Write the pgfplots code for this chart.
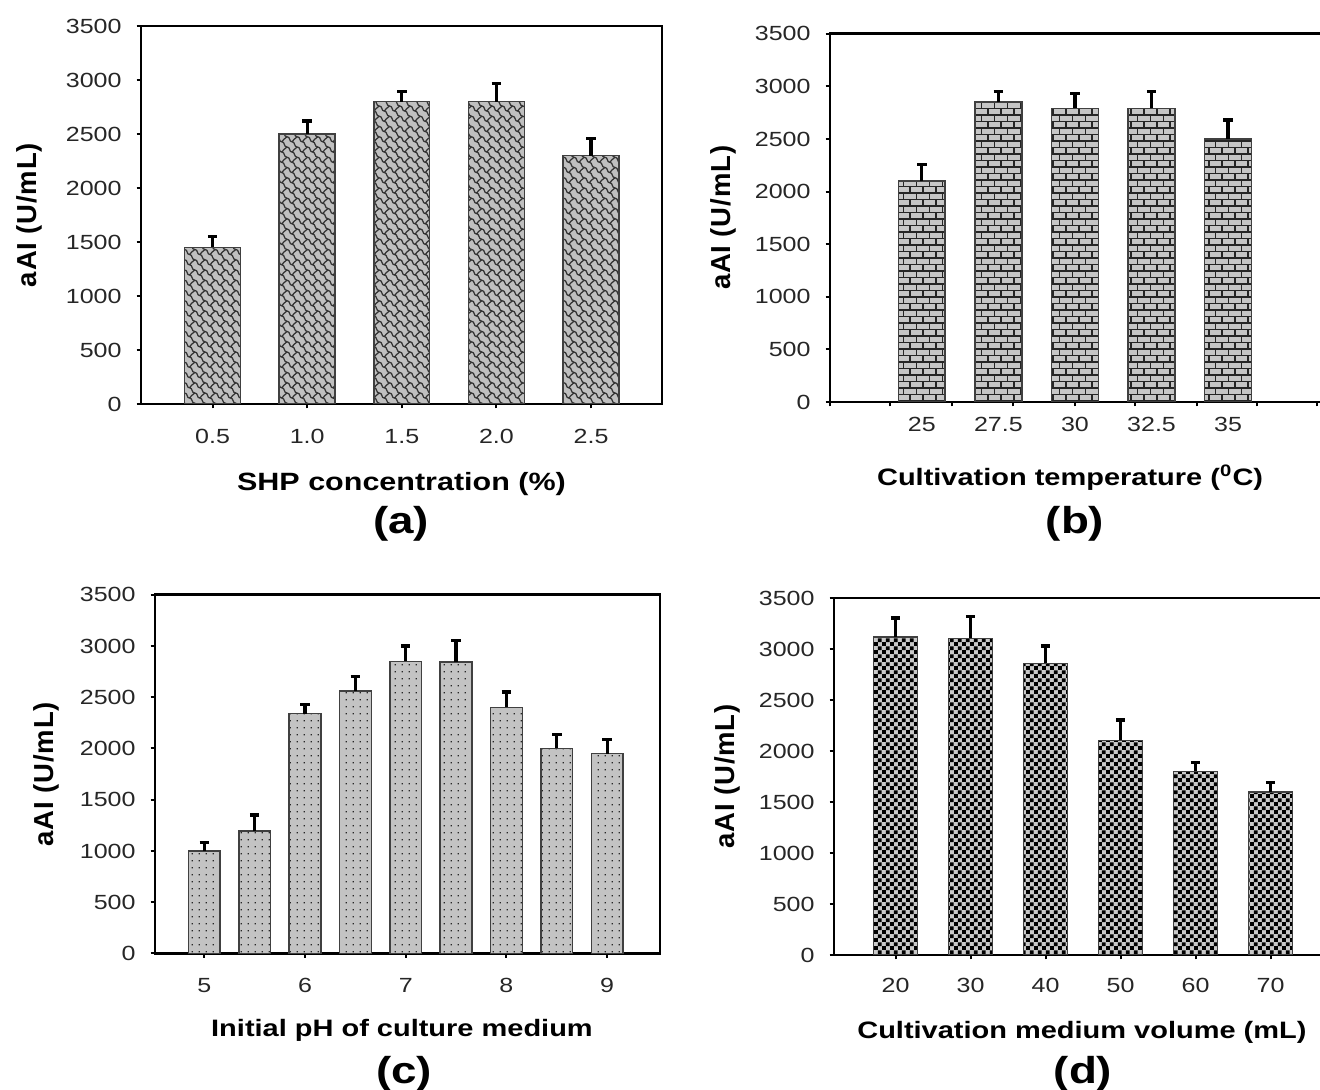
\documentclass[border=0pt]{standalone}
\usepackage{fontspec}
\setmainfont{Liberation Sans}[FakeStretch=1.22]
\newfontfamily\ylabfont{Liberation Sans}[LetterSpace=3]
\usepackage{pgfplots}
\pgfplotsset{compat=1.18}
\usetikzlibrary{patterns}

\definecolor{barfill}{HTML}{C0C0C0}
\definecolor{baredge}{HTML}{404040}

% (a) weave-like pattern
\pgfdeclarepatternformonly{myweave}{\pgfqpoint{-0.5pt}{-0.5pt}}{\pgfqpoint{4.6pt}{4.6pt}}{\pgfqpoint{4.1pt}{4.1pt}}{%
  \pgfsetlinewidth{0.5pt}%
  \pgfpathmoveto{\pgfqpoint{0pt}{4.1pt}}%
  \pgfpathcurveto{\pgfqpoint{1.45pt}{4.1pt}}{\pgfqpoint{0.7pt}{2.05pt}}{\pgfqpoint{2.05pt}{2.05pt}}%
  \pgfpathcurveto{\pgfqpoint{3.4pt}{2.05pt}}{\pgfqpoint{2.65pt}{0pt}}{\pgfqpoint{4.1pt}{0pt}}%
  \pgfpathmoveto{\pgfqpoint{2.05pt}{2.05pt}}%
  \pgfpathcurveto{\pgfqpoint{2.05pt}{3.1pt}}{\pgfqpoint{3.4pt}{2.9pt}}{\pgfqpoint{4.1pt}{4.1pt}}%
  \pgfusepath{stroke}}
% (b) bricks
\pgfdeclarepatternformonly{mybricks}{\pgfqpoint{-0.5pt}{-0.5pt}}{\pgfqpoint{5.7pt}{5.7pt}}{\pgfqpoint{5.2pt}{5.2pt}}{%
  \pgfsetlinewidth{0.6pt}%
  \pgfpathmoveto{\pgfqpoint{-0.5pt}{0pt}}\pgfpathlineto{\pgfqpoint{5.7pt}{0pt}}%
  \pgfpathmoveto{\pgfqpoint{-0.5pt}{2.6pt}}\pgfpathlineto{\pgfqpoint{5.7pt}{2.6pt}}%
  \pgfpathmoveto{\pgfqpoint{0pt}{0pt}}\pgfpathlineto{\pgfqpoint{0pt}{2.6pt}}%
  \pgfpathmoveto{\pgfqpoint{2.6pt}{2.6pt}}\pgfpathlineto{\pgfqpoint{2.6pt}{5.2pt}}%
  \pgfusepath{stroke}}
% (c) dots
\pgfdeclarepatternformonly{mydots}{\pgfqpoint{0pt}{0pt}}{\pgfqpoint{2.7pt}{2.7pt}}{\pgfqpoint{2.7pt}{2.7pt}}{%
  \pgfpathrectangle{\pgfqpoint{1.05pt}{1.05pt}}{\pgfqpoint{0.6pt}{0.6pt}}%
  \pgfusepath{fill}}
% (d) checkerboard
\pgfdeclarepatternformonly{mychecker}{\pgfqpoint{0pt}{0pt}}{\pgfqpoint{3.3pt}{3.3pt}}{\pgfqpoint{3.3pt}{3.3pt}}{%
  \pgfpathrectangle{\pgfqpoint{0pt}{0pt}}{\pgfqpoint{1.65pt}{1.65pt}}%
  \pgfpathrectangle{\pgfqpoint{1.65pt}{1.65pt}}{\pgfqpoint{1.65pt}{1.65pt}}%
  \pgfusepath{fill}}

\pgfplotsset{
  panel/.style={
    scale only axis, anchor=south west,
    ymin=0, ymax=3500, ytick={0,500,...,3500},
    axis line style={line width=1.1pt, black},
    tick style={line width=0.8pt, black},
    tick align=outside, tick pos=left, major tick length=1.8pt,
    ybar, bar shift=0pt,
    /pgf/number format/1000 sep={},
    /pgf/number format/assume math mode=true,
    yticklabel style={font=\fontsize{8.2}{10}\selectfont, color=black!85, inner sep=0pt, anchor=east, xshift=-5.8pt},
    xticklabel style={font=\fontsize{8.2}{10}\selectfont, color=black!85, inner sep=0pt, anchor=north},
    xlabel style={anchor=center, font=\bfseries\fontsize{9.5}{11}\selectfont},
    ylabel style={anchor=center, font=\ylabfont\bfseries\fontsize{11}{13}\selectfont},
    ylabel={aAI (U/mL)},
  },
  ebar/.style={error bars/.cd, y dir=plus, y explicit,
    error bar style={line width=1.3pt, black},
    error mark options={rotate=90, mark size=1.9pt, line width=1.3pt, black}},
}

\begin{document}
\begin{tikzpicture}
\useasboundingbox (0,0) rectangle (528pt,436pt);

% (a)
\begin{axis}[panel, at={(56.4pt,274.4pt)}, width=208.4pt, height=151.2pt,
  xmin=-0.756, xmax=4.75, bar width=0.59,
  xtick={0,1,2,3,4}, xticklabels={0.5,1.0,1.5,2.0,2.5},
  xticklabel style={yshift=-8.2pt},
  xlabel={SHP concentration (\%)},
  xlabel style={at={(axis description cs:0.5,-0.212)}, font=\bfseries\fontsize{10}{12}\selectfont},
  ylabel style={at={(axis description cs:-0.214,0.5)}}]
\addplot[fill=barfill, draw=baredge, line width=0.6pt, postaction={pattern=myweave, pattern color=black!80}, ebar]
  coordinates {(0,1450) +- (0,100) (1,2500) +- (0,120) (2,2800) +- (0,90) (3,2800) +- (0,170) (4,2300) +- (0,160)};
\end{axis}

% (b)
\begin{axis}[panel, at={(332pt,275.2pt)}, width=197.2pt, height=147.3pt,
  xmin=-1.2, xmax=5.24, bar width=0.61,
  xtick={-1.2,-0.415,0.39,1.187,2.0,2.783,3.589,4.372,5.155}, xticklabels={},
  extra x ticks={0,1,2,3,4}, extra x tick labels={25,27.5,30,32.5,35},
  extra x tick style={tick style={draw=none}, xticklabel style={yshift=-3.95pt}},
  xlabel={Cultivation temperature (\textsuperscript{0}C)},
  xlabel style={at={(axis description cs:0.487,-0.206)}},
  ylabel style={at={(axis description cs:-0.217,0.5)}}]
\addplot[fill=barfill!90, draw=baredge, line width=0.6pt, postaction={pattern=mybricks, pattern color=black!85}, ebar]
  coordinates {(0,2100) +- (0,160) (1,2850) +- (0,100) (2,2790) +- (0,140) (3,2790) +- (0,160) (4,2500) +- (0,180)};
\end{axis}

% (c)
\begin{axis}[panel, at={(62pt,54.6pt)}, width=202pt, height=143.5pt,
  xmin=-0.98, xmax=9.05, bar width=0.63,
  xtick={0,2,4,6,8}, xticklabels={5,6,7,8,9},
  xticklabel style={yshift=-7.85pt},
  xlabel={Initial pH of culture medium},
  xlabel style={at={(axis description cs:0.489,-0.215)}},
  ylabel style={at={(axis description cs:-0.216,0.5)}}]
\addplot[fill=barfill!95, draw=baredge, line width=0.6pt, postaction={pattern=mydots, pattern color=black!85}, ebar]
  coordinates {(0,1000) +- (0,80) (1,1195) +- (0,155) (2,2340) +- (0,90) (3,2560) +- (0,140) (4,2850) +- (0,150)
               (5,2845) +- (0,210) (6,2400) +- (0,150) (7,2000) +- (0,140) (8,1950) +- (0,140)};
\end{axis}

% (d)
\begin{axis}[panel, at={(333.6pt,54pt)}, width=195.6pt, height=142.8pt,
  xmin=-0.82, xmax=5.7, bar width=0.59,
  xtick={0,1,2,3,4,5}, xticklabels={20,30,40,50,60,70},
  xticklabel style={yshift=-7.45pt},
  xlabel={Cultivation medium volume (mL)},
  xlabel style={at={(axis description cs:0.507,-0.216)}},
  ylabel style={at={(axis description cs:-0.219,0.5)}}]
\addplot[fill=barfill!85, draw=baredge, line width=0.6pt, postaction={pattern=mychecker, pattern color=black}, ebar]
  coordinates {(0,3120) +- (0,185) (1,3105) +- (0,215) (2,2860) +- (0,170) (3,2105) +- (0,200) (4,1800) +- (0,90) (5,1600) +- (0,90)};
\end{axis}

\node[font=\bfseries\fontsize{15}{17}\selectfont] at (160.4pt,226.4pt) {(a)};
\node[font=\bfseries\fontsize{15}{17}\selectfont] at (430pt,226.4pt) {(b)};
\node[font=\bfseries\fontsize{15}{17}\selectfont] at (161.6pt,6.4pt) {(c)};
\node[font=\bfseries\fontsize{15}{17}\selectfont] at (433.2pt,6.4pt) {(d)};
\end{tikzpicture}
\end{document}
